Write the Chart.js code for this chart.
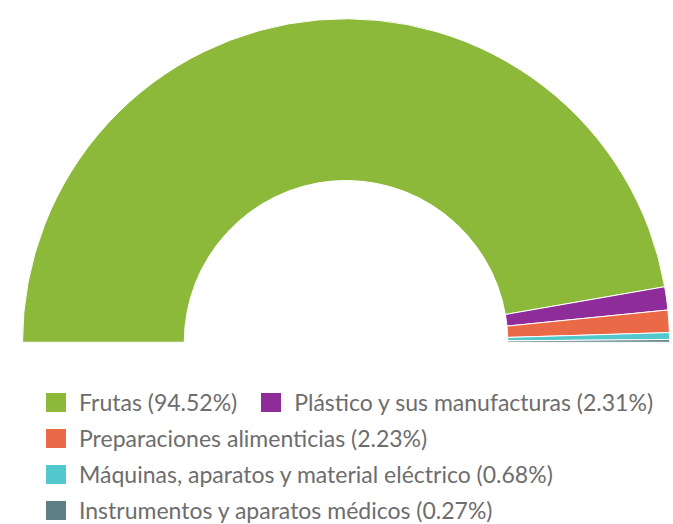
<!DOCTYPE html>
<html>
<head>
<meta charset="utf-8">
<script src="https://cdn.jsdelivr.net/npm/chart.js@4"></script>
<style>
  body { margin: 0; background: #fff; width: 673px; height: 524px; overflow: hidden; position: relative; font-family: Lato, sans-serif; }
  #wrap { position: absolute; left: 0; top: 0; width: 673px; height: 370px; }
  #legend { position: absolute; left: 46px; top: 392px; width: 620px; display: flex; flex-wrap: wrap; row-gap: 16px; column-gap: 24px; }
  .item { display: flex; align-items: center; height: 20px; font-size: 23px; color: #6d6d6d; white-space: nowrap; }
  .box { width: 20px; height: 19px; margin-right: 13px; }
</style>
</head>
<body>
<div id="wrap"><canvas id="exportChart"></canvas></div>
<div id="legend"></div>
<script>
const categories = [
  "Frutas",
  "Plástico y sus manufacturas",
  "Preparaciones alimenticias",
  "Máquinas, aparatos y material eléctrico",
  "Instrumentos y aparatos médicos"
];
const shares = [94.52, 2.31, 2.23, 0.68, 0.27];
const colors = ["#8db93a", "#8e2c9a", "#ea6a47", "#52c8cd", "#5f7f87"];

const labels = categories.map((c, i) => c + " (" + shares[i].toFixed(2) + "%)");

const chart = new Chart(document.getElementById("exportChart"), {
  type: "doughnut",
  data: {
    labels: labels,
    datasets: [{
      data: shares,
      backgroundColor: colors,
      borderColor: "#ffffff",
      borderWidth: 1
    }]
  },
  options: {
    responsive: true,
    maintainAspectRatio: false,
    animation: false,
    rotation: -90,
    circumference: 180,
    cutout: "50%",
    layout: { padding: { left: 22, right: 3, top: 18, bottom: 27 } },
    plugins: {
      legend: { display: false },
      tooltip: { enabled: false }
    }
  }
});

// html legend, same order as the slices
const legend = document.getElementById("legend");
labels.forEach((text, i) => {
  const item = document.createElement("div");
  item.className = "item";
  const box = document.createElement("span");
  box.className = "box";
  box.style.background = colors[i];
  const span = document.createElement("span");
  span.textContent = text;
  item.appendChild(box);
  item.appendChild(span);
  legend.appendChild(item);
});
</script>
</body>
</html>
